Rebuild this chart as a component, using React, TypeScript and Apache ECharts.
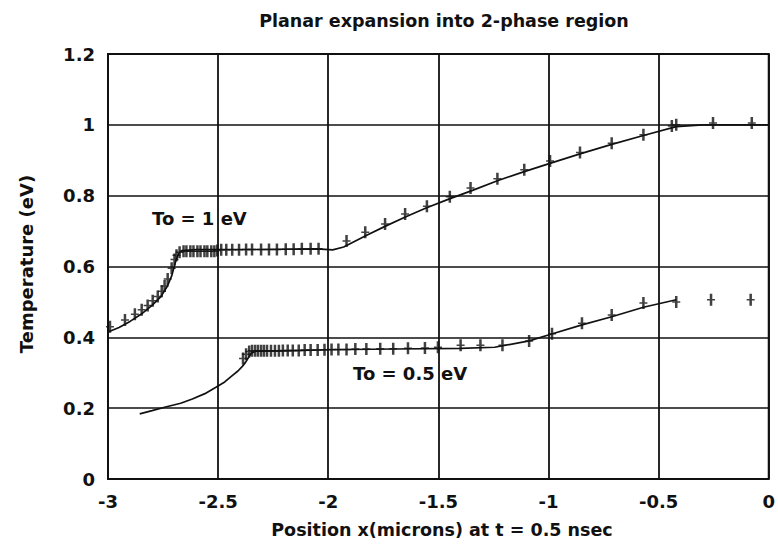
import React, { useEffect, useRef } from "react";
import * as echarts from "echarts";

// Axis ranges and tick spacing
const xTicks = { min: -3, max: 0, interval: 0.5 };
const yTicks = { min: 0, max: 1.2, interval: 0.2 };

// To = 1 eV: smooth profile
const upperCurveX = [-3, -2.95, -2.9, -2.85, -2.8, -2.76, -2.73, -2.71, -2.695, -2.68, -2.665, -2.6, -2.3, -2.05, -1.98, -1.93, -1.83, -1.74, -1.65, -1.556, -1.45, -1.345, -1.232, -1.11, -0.99, -0.857, -0.713, -0.569, -0.42, -0.3, 0];
const upperCurveT = [0.415, 0.428, 0.445, 0.465, 0.49, 0.515, 0.545, 0.575, 0.61, 0.636, 0.645, 0.648, 0.648, 0.65, 0.647, 0.655, 0.687, 0.714, 0.74, 0.765, 0.791, 0.815, 0.842, 0.868, 0.892, 0.918, 0.945, 0.97, 0.995, 1.0, 1.0];

// To = 1 eV: simulation points
const upperPointsX = [-2.991, -2.923, -2.878, -2.847, -2.82, -2.797, -2.774, -2.756, -2.743, -2.729, -2.711, -2.698,
  -2.689, -2.675, -2.657, -2.644, -2.626, -2.612, -2.594, -2.58, -2.562, -2.549, -2.531, -2.517, -2.504,
  -2.486, -2.463, -2.436, -2.405, -2.373, -2.346, -2.305, -2.269, -2.233, -2.193, -2.157, -2.12, -2.08, -2.044,
  -1.917, -1.832, -1.742, -1.651, -1.552, -1.448, -1.354, -1.232, -1.11, -0.993, -0.857, -0.713, -0.569, -0.44, -0.42, -0.253, -0.077];
const upperPointsT = [0.43, 0.449, 0.465, 0.478, 0.49, 0.503, 0.515, 0.53, 0.545, 0.565, 0.595, 0.62,
  0.632, 0.64, 0.643, 0.643, 0.643, 0.643, 0.643, 0.643, 0.643, 0.643, 0.643, 0.643, 0.645,
  0.647, 0.647, 0.647, 0.647, 0.648, 0.648, 0.648, 0.648, 0.648, 0.649, 0.649, 0.65, 0.65, 0.65,
  0.672, 0.697, 0.72, 0.748, 0.77, 0.797, 0.822, 0.848, 0.873, 0.898, 0.922, 0.948, 0.972, 0.997, 1.0, 1.005, 1.005];

// To = 0.5 eV: smooth profile
const lowerCurveX = [-2.856, -2.8, -2.734, -2.67, -2.617, -2.56, -2.508, -2.47, -2.436, -2.41, -2.39, -2.375, -2.365, -2.35, -2.33, -2.2, -2.0, -1.7, -1.4, -1.245, -1.088, -0.993, -0.848, -0.713, -0.569, -0.42];
const lowerCurveT = [0.184, 0.193, 0.204, 0.214, 0.226, 0.241, 0.26, 0.274, 0.292, 0.305, 0.318, 0.33, 0.34, 0.355, 0.361, 0.362, 0.365, 0.367, 0.369, 0.372, 0.39, 0.408, 0.435, 0.458, 0.485, 0.506];

// To = 0.5 eV: simulation points
const lowerPointsX = [-2.387, -2.373, -2.359, -2.346, -2.332, -2.319, -2.305, -2.292, -2.278, -2.26, -2.242, -2.224, -2.206, -2.184, -2.161, -2.134, -2.107, -2.08, -2.048, -2.017,
  -1.985, -1.954, -1.917, -1.877, -1.827, -1.764, -1.705, -1.638, -1.561, -1.502, -1.399, -1.309, -1.209, -1.088, -0.984, -0.848, -0.713, -0.569, -0.42, -0.262, -0.082];
const lowerPointsT = [0.34, 0.352, 0.36, 0.362, 0.362, 0.362, 0.362, 0.362, 0.362, 0.362, 0.362, 0.362, 0.363, 0.363, 0.363, 0.363, 0.364, 0.364, 0.364, 0.365,
  0.366, 0.366, 0.366, 0.367, 0.367, 0.368, 0.368, 0.369, 0.37, 0.372, 0.378, 0.378, 0.378, 0.39, 0.41, 0.44, 0.463, 0.497, 0.5, 0.506, 0.506];

const chartTitle = "Planar expansion into 2-phase region";
const xAxisTitle = "Position x(microns) at t = 0.5 nsec";
const yAxisTitle = "Temperature (eV)";
const upperLabel = "To = 1 eV";
const lowerLabel = "To = 0.5 eV";

const FONT = "DejaVu Sans";
const INK = "#111";
const TEXT_FONT = `bold 18px "${FONT}"`;
const TITLE_FONT = `bold 17.5px "${FONT}"`;

// plus-shaped marker with a heavier vertical stroke
const PLUS = "path://M2.75,0H5.25V5.25H8V6.75H5.25V12H2.75V6.75H0V5.25H2.75Z";

const zip = (xs: number[], ys: number[]) => xs.map((x, i) => [x, ys[i]]);

export default function App() {
  const ref = useRef<HTMLDivElement>(null);

  useEffect(() => {
    if (!ref.current) return;
    const chart = echarts.init(ref.current, undefined, { renderer: "svg" });

    const lineSeries = (data: number[][]) => ({
      type: "line",
      data,
      smooth: false,
      showSymbol: false,
      symbol: "none",
      lineStyle: { color: INK, width: 1.7 },
      z: 3,
    });
    const pointSeries = (data: number[][]) => ({
      type: "scatter",
      data,
      symbol: PLUS,
      symbolSize: [8, 12],
      itemStyle: { color: INK },
      z: 4,
    });

    chart.setOption({
      animation: false,
      backgroundColor: "#fff",
      grid: {
        left: 108,
        right: 5,
        top: 54,
        bottom: 66,
        show: true,
        borderColor: INK,
        borderWidth: 2,
      },
      xAxis: {
        type: "value",
        min: xTicks.min,
        max: xTicks.max,
        interval: xTicks.interval,
        axisLine: { show: false },
        axisTick: { show: false },
        splitLine: { show: true, lineStyle: { color: INK, width: 1.8 } },
        axisLabel: { color: INK, fontFamily: FONT, fontWeight: "bold", fontSize: 18, margin: 13 },
      },
      yAxis: {
        type: "value",
        min: yTicks.min,
        max: yTicks.max,
        interval: yTicks.interval,
        axisLine: { show: false },
        axisTick: { show: false },
        splitLine: { show: true, lineStyle: { color: INK, width: 1.5 } },
        axisLabel: { color: INK, fontFamily: FONT, fontWeight: "bold", fontSize: 18, margin: 13 },
      },
      series: [
        lineSeries(zip(upperCurveX, upperCurveT)),
        pointSeries(zip(upperPointsX, upperPointsT)),
        lineSeries(zip(lowerCurveX, lowerCurveT)),
        pointSeries(zip(lowerPointsX, lowerPointsT)),
      ],
      graphic: [
        {
          type: "text",
          x: 444,
          y: 21,
          style: { text: chartTitle, fill: INK, font: TITLE_FONT, textAlign: "center", textVerticalAlign: "middle" },
        },
        {
          type: "text",
          x: 442,
          y: 530,
          style: { text: xAxisTitle, fill: INK, font: TITLE_FONT, textAlign: "center", textVerticalAlign: "middle" },
        },
        {
          type: "text",
          x: 26,
          y: 264,
          rotation: Math.PI / 2,
          style: { text: yAxisTitle, fill: INK, font: TEXT_FONT, textAlign: "center", textVerticalAlign: "middle" },
        },
        {
          type: "text",
          x: 152,
          y: 218,
          z: 10,
          style: { text: upperLabel, fill: INK, font: TEXT_FONT, textAlign: "left", textVerticalAlign: "middle" },
        },
        {
          type: "text",
          x: 353,
          y: 373,
          z: 10,
          style: { text: lowerLabel, fill: INK, font: TEXT_FONT, textAlign: "left", textVerticalAlign: "middle" },
        },
      ],
    });

    return () => chart.dispose();
  }, []);

  return (
    <div
      ref={ref}
      style={{ position: "fixed", left: 0, top: 0, width: 778, height: 545 }}
    />
  );
}
